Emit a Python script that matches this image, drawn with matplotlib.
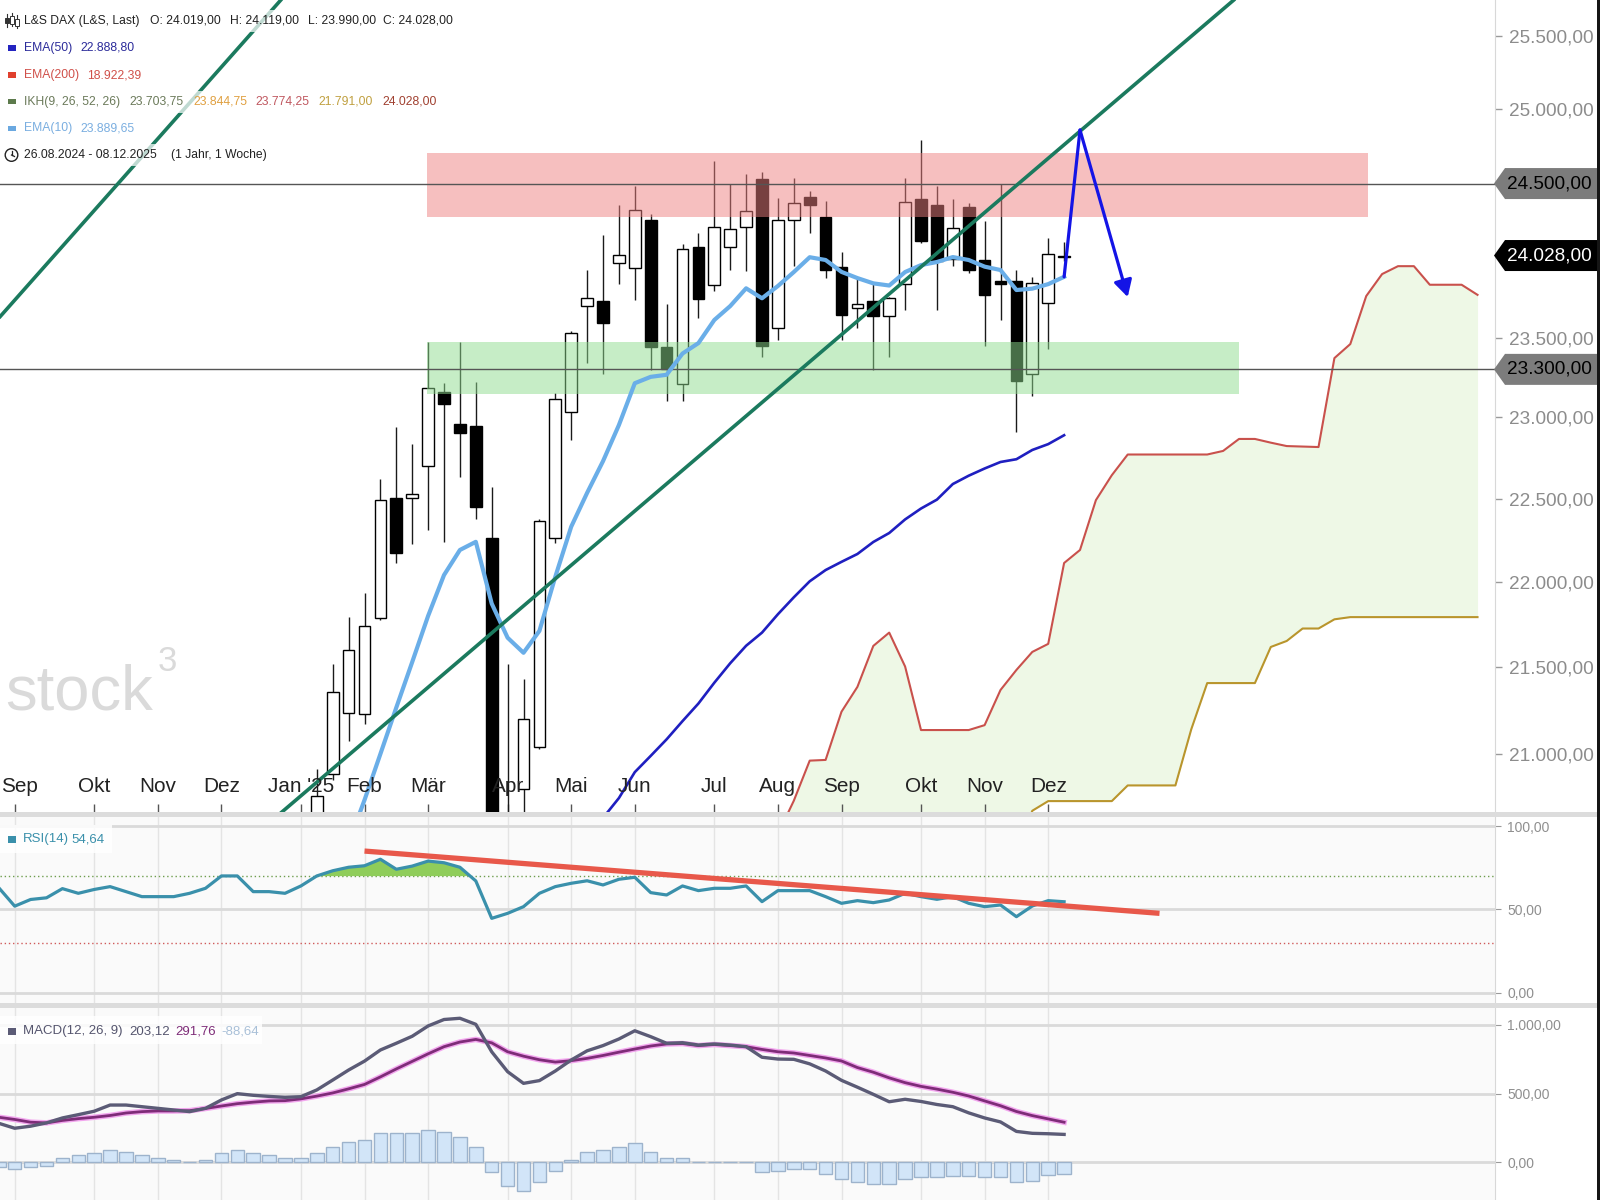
import numpy as np
import matplotlib
matplotlib.use("Agg")
import matplotlib.pyplot as plt
import matplotlib.transforms as mtransforms
from matplotlib import font_manager
from matplotlib.patches import Polygon, Rectangle, Circle
from matplotlib.lines import Line2D
from matplotlib.ticker import NullLocator

# ---------------- data (week index 0 = week of 26.08.2024) ----------------
month_labels = ["Sep", "Okt", "Nov", "Dez", "Jan '25", "Feb", "Mär", "Apr",
                "Mai", "Jun", "Jul", "Aug", "Sep", "Okt", "Nov", "Dez"]
month_weeks = [1, 6, 10, 14, 19, 23, 27, 32, 36, 40, 45, 49, 53, 58, 62, 66]

candle_start = 19
opens = [19950, 20250, 20887, 21236, 21227, 21787, 22503, 22501, 22698, 23157,
         22958, 22949, 22259, 19900, 20800, 21037, 22259, 23030, 23700, 23735,
         23980, 23949, 24261, 23444, 23207, 24085, 23840, 24082, 24213, 24529,
         23562, 24258, 24414, 24281, 23952, 23690, 23733, 23636, 23845, 24396,
         24360, 24003, 24347, 23996, 23860, 23862, 23271, 23722, 24019]
highs = [20450, 20915, 21517, 21790, 21935, 22619, 22943, 22835, 23476, 23213,
         23476, 23223, 22571, 21519, 21429, 22375, 23151, 23546, 23931, 24162,
         24360, 24483, 24302, 23715, 24105, 24172, 24651, 24500, 24562, 24574,
         24406, 24539, 24452, 24386, 24052, 23884, 23850, 23760, 24539, 24789,
         24483, 24396, 24373, 24253, 24500, 23931, 23891, 24143, 24119]
lows = [19880, 20150, 20850, 21076, 21170, 21772, 22112, 22226, 22313, 22236,
        22634, 22377, 20400, 18490, 20400, 21028, 22229, 22860, 23343, 23269,
        23847, 23743, 23297, 23100, 23100, 23626, 23797, 23937, 23927, 23378,
        23483, 23958, 24176, 23884, 23483, 23562, 23297, 23378, 23674, 24110,
        23674, 23958, 23916, 23450, 23610, 22912, 23134, 23430, 23990]
closes = [20215, 20762, 21356, 21599, 21737, 22494, 22170, 22527, 23180, 23083,
          22905, 22451, 20641, 20374, 21198, 22364, 23115, 23529, 23755, 23595,
          24029, 24325, 23440, 23302, 24073, 23750, 24213, 24202, 24317, 23450,
          24258, 24371, 24358, 23937, 23646, 23715, 23636, 23753, 24381, 24121,
          23990, 24205, 23937, 23776, 23844, 23228, 23850, 24039, 24028]

ema10_start = 21
ema10 = [20150, 20500, 20740, 21000, 21265, 21528, 21798, 22040, 22190, 22239,
         21871, 21670, 21582, 21710, 22030, 22330, 22535, 22729, 22952, 23213,
         23253, 23266, 23400, 23466, 23613, 23702, 23816, 23752, 23831, 23921,
         24017, 23999, 23922, 23882, 23848, 23834, 23921, 23966, 23986, 24018,
         23999, 23956, 23934, 23805, 23814, 23843, 23890]

ema50_start = 37
ema50 = [20550, 20640, 20751, 20897, 20989, 21083, 21187, 21288, 21408, 21521,
         21623, 21700, 21808, 21908, 22003, 22070, 22119, 22166, 22238, 22292,
         22374, 22440, 22494, 22589, 22640, 22684, 22724, 22741, 22798, 22834,
         22889]

cloud_start = 49
span_a = [20550, 20736, 20962, 20966, 21241, 21384, 21622, 21700, 21502, 21136,
          21136, 21136, 21136, 21164, 21366, 21482, 21587, 21634, 22112, 22190,
          22491, 22643, 22770, 22770, 22770, 22770, 22770, 22770, 22792, 22866,
          22866, 22843, 22822, 22819, 22816, 23371, 23460, 23766, 23908, 23959,
          23959, 23839, 23839, 23839, 23774]
span_b = [19700, 19700, 19750, 19800, 19900, 19950, 20000, 20050, 20100, 20150,
          20200, 20250, 20300, 20350, 20450, 20450, 20680, 20734, 20734, 20734,
          20734, 20734, 20822, 20822, 20822, 20822, 21141, 21406, 21406, 21406,
          21406, 21616, 21651, 21724, 21724, 21778, 21791, 21791, 21791, 21791,
          21791, 21791, 21791, 21791, 21791]

rsi = [63, 52, 56, 57, 62.5, 59.7, 62, 63.7, 60.7, 57.7,
       57.7, 57.7, 59.7, 62.7, 70.1, 70.1, 60.7, 60.7, 59.7, 64.1,
       70.1, 73.2, 75.3, 76.2, 80.1, 74.1, 76.0, 79.0, 78.0, 75.3,
       67.1, 44.7, 47.7, 51.7, 59.7, 63.7, 65.7, 67.2, 64.7, 68.1,
       69.3, 60.1, 58.7, 64.1, 61.3, 62.7, 62.7, 64.1, 54.7, 61.3,
       61.3, 61.3, 57.7, 53.7, 55.3, 54.1, 55.7, 59.7, 57.7, 56.1,
       57.7, 53.7, 51.7, 52.7, 45.7, 52.1, 55.3, 54.64]

macd = [284, 248, 263, 287, 323, 347, 372, 417, 417, 405,
        393, 381, 369, 393, 454, 500, 488, 480, 473, 478,
        527, 599, 672, 737, 818, 867, 918, 993, 1040, 1049,
        1005, 805, 660, 575, 595, 665, 745, 812, 850, 898,
        958, 915, 867, 871, 854, 862, 854, 842, 765, 752,
        750, 717, 665, 597, 547, 495, 441, 459, 443, 421,
        405, 360, 323, 294, 225, 211, 208, 203.12]
signal = [328, 312, 292, 287, 305, 318, 328, 341, 359, 369,
          374, 374, 376, 392, 410, 427, 438, 447, 449, 462,
          482, 505, 535, 567, 622, 680, 735, 790, 842, 876,
          895, 870, 805, 773, 747, 730, 740, 757, 778, 802,
          825, 847, 862, 865, 850, 858, 850, 842, 822, 805,
          796, 778, 760, 738, 690, 656, 615, 580, 553, 533,
          510, 483, 447, 412, 370, 340, 316, 291.76]
hist = [-32, -49, -36, -24, 29, 53, 66, 90, 78, 53,
        29, 17, 5, 17, 66, 90, 66, 53, 29, 29,
        66, 114, 151, 163, 211, 211, 211, 235, 223, 187,
        114, -73, -170, -206, -146, -61, 17, 78, 90, 114,
        138, 78, 29, 29, 5, 5, 5, 5, -73, -61,
        -49, -49, -87, -121, -146, -158, -158, -121, -109, -109,
        -97, -97, -109, -109, -146, -134, -92, -88.64]

price_ticks = [21000, 21500, 22000, 22500, 23000, 23500, 24500, 25000, 25500]
rsi_ticks = [0, 50, 100]
macd_ticks = [0, 500, 1000]

resistance_zone = (26.9, 86.1, 24280, 24700)   # week from, week to, low, high
support_zone = (26.9, 78.0, 23145, 23470)
level_high = 24500
level_low = 23300
last_close = 24028
trend_main = [(30.0, 21618), (60.0, 24131)]
trend_upper = [(8.25, 24589), (16.62, 25607)]
projection = [(67, 23890), (68, 24857), (71, 23760)]
rsi_trend = [(23, 85), (73, 47.7)]

# ---------------- fonts ----------------
names = {f.name for f in font_manager.fontManager.ttflist}
NARROW_OK = "Liberation Sans Narrow" in names
FAM = ["Liberation Sans Narrow" if NARROW_OK else "Liberation Sans", "DejaVu Sans"]
plt.rcParams["font.family"] = FAM
SC = 1.0 if NARROW_OK else 0.83


def fs(s):
    return s * SC


def de(v):
    s = f"{v:,.2f}"
    return s.replace(",", "§").replace(".", ",").replace("§", ".")


W, H = 1600, 1200
fig = plt.figure(figsize=(16, 12), dpi=100, facecolor="white")


def fx(px):
    return px / W


def fy(py):
    return 1 - py / H


ax = fig.add_axes([0, fy(812), fx(1495), 812 / H])
ax_rsi = fig.add_axes([0, fy(1003), fx(1495), (1003 - 817) / H])
ax_macd = fig.add_axes([0, 0, fx(1495), (1200 - 1008) / H])

# panel separators
for y0, y1 in [(812, 817), (1003, 1008)]:
    fig.add_artist(Rectangle((0, fy(y1)), 1, (y1 - y0) / H, transform=fig.transFigure,
                             facecolor="#dcdcdc", edgecolor="none", zorder=0.5))

# ---------------- main price panel ----------------
ax.set_yscale("log")
ax.set_xlim(0.075, 94.1)
ax.set_ylim(20673, 25746)
ax.set_facecolor("white")
for sp in ["left", "top", "bottom"]:
    ax.spines[sp].set_visible(False)
ax.spines["right"].set_color("#d8d8d8")

# watermark
ax.text(fx(5) / fx(1495), (812 - 709) / 812, "stock", transform=ax.transAxes,
        fontsize=fs(55), color="#dadada", ha="left", va="baseline", zorder=0.2)
ax.text(fx(158) / fx(1495), (812 - 645) / 812, "3", transform=ax.transAxes,
        fontsize=fs(30), color="#dadada", ha="left", va="top", zorder=0.2)

# ichimoku cloud
cw = np.arange(cloud_start, cloud_start + len(span_a))
sa = np.array(span_a, float)
sb = np.array(span_b, float)
ax.fill_between(cw, sa, sb, where=sa >= sb, interpolate=True, color="#eef8e6", lw=0, zorder=1)
ax.plot(cw, sa, color="#c9514c", lw=1.5, zorder=2)
ax.plot(cw, sb, color="#b9952c", lw=1.5, zorder=2)

# candles
ks = np.arange(candle_start, candle_start + len(opens))
for k, o, h, l, c in zip(ks, opens, highs, lows, closes):
    ax.vlines(k, l, h, color="#1a1a1a", lw=1.0, zorder=3)
    lo, hi = min(o, c), max(o, c)
    ax.bar(k, hi - lo, bottom=lo, width=0.74, color="white" if c >= o else "black",
           edgecolor="black", lw=1.0, zorder=4)

# zones
for (k0, k1, lo, hi), col in [(resistance_zone, "#ee8080"), (support_zone, "#8fdc8f")]:
    ax.add_patch(Rectangle((k0, lo), k1 - k0, hi - lo, facecolor=col, alpha=0.5,
                           edgecolor="none", zorder=5))
ax.axhline(level_high, color="#555555", lw=1.0, zorder=5.5)
ax.axhline(level_low, color="#555555", lw=1.0, zorder=5.5)

# moving averages
ax.plot(np.arange(ema50_start, ema50_start + len(ema50)), ema50, color="#1f1fc0", lw=1.9, zorder=6)
ax.plot(np.arange(ema10_start, ema10_start + len(ema10)), ema10, color="#6aaee8", lw=3.0, zorder=6)


def log_line(p, q, k_from, k_to):
    kk = np.array([k_from, k_to], float)
    (k0, p0), (k1, p1) = p, q
    return kk, np.exp(np.log(p0) + (np.log(p1) - np.log(p0)) * (kk - k0) / (k1 - k0))


kk, pp = log_line(trend_main[0], trend_main[1], 10, 85)
ax.plot(kk, pp, color="#1b7a5e", lw=2.6, zorder=7, solid_capstyle="butt")
kk, pp = log_line(trend_upper[0], trend_upper[1], -2, 22)
ax.plot(kk, pp, color="#1b7a5e", lw=2.6, zorder=7, solid_capstyle="butt")

# projected path
(pk0, pv0), (pk1, pv1), (pk2, pv2) = projection
ax.plot([pk0, pk1], [pv0, pv1], color="#1414e6", lw=2.3, zorder=8, solid_capstyle="round")
ax.annotate("", xy=(pk2, pv2), xytext=(pk1, pv1),
            arrowprops=dict(arrowstyle="-|>,head_length=1.0,head_width=0.55", color="#1414e6",
                            lw=2.3, shrinkA=0, shrinkB=0), zorder=8)

# axes ticks
ax.yaxis.tick_right()
ax.set_yticks(price_ticks)
ax.set_yticklabels([de(t) for t in price_ticks])
ax.yaxis.set_minor_locator(NullLocator())
ax.tick_params(axis="y", which="major", length=5, width=1, color="#9a9a9a",
               labelcolor="#8c8c8c", labelsize=fs(16.5), pad=5)
ax.set_xticks(month_weeks)
ax.xaxis.set_minor_locator(NullLocator())
ax.tick_params(axis="x", direction="in", length=6, width=1, color="#555555", labelbottom=False)
btrans = mtransforms.blended_transform_factory(ax.transData, ax.transAxes)
for i, (wk, lab) in enumerate(zip(month_weeks, month_labels)):
    if i == 0:
        ax.text(0.0005, (812 - 787) / 812, lab, transform=ax.transAxes, ha="left", va="center",
                fontsize=fs(18), color="#222222", zorder=9)
    else:
        ax.text(wk, (812 - 787) / 812, lab, transform=btrans, ha="center", va="center",
                fontsize=fs(18), color="#222222", zorder=9)

# ---------------- RSI panel ----------------
wk_all = np.arange(len(rsi))
r = np.array(rsi, float)
ax_rsi.set_facecolor("#fafafa")
ax_rsi.set_xlim(0.075, 94.1)
ax_rsi.set_ylim(-6.0, 105.4)
for v in rsi_ticks:
    ax_rsi.axhline(v, color="#dadada", lw=2, zorder=0.5)
for wk in month_weeks:
    ax_rsi.axvline(wk, color="#e4e4e4", lw=1, zorder=0.4)
ax_rsi.axhline(70, color="#6e9e4e", lw=1, ls=(0, (1, 2)), zorder=1)
ax_rsi.axhline(30, color="#d05a5a", lw=1, ls=(0, (1, 2)), zorder=1)
ax_rsi.fill_between(wk_all, r, 70, where=r > 70, interpolate=True, color="#8fcd5a", lw=0, zorder=2)
ax_rsi.plot(wk_all, r, color="#3a90ab", lw=2.3, zorder=3)
ax_rsi.plot([rsi_trend[0][0], rsi_trend[1][0]], [rsi_trend[0][1], rsi_trend[1][1]],
            color="#e8584a", lw=3.8, zorder=4, solid_capstyle="butt")
ax_rsi.yaxis.tick_right()
ax_rsi.set_yticks(rsi_ticks)
ax_rsi.set_yticklabels([de(t) for t in rsi_ticks])
ax_rsi.set_xticks([])
ax_rsi.tick_params(axis="y", length=4, color="#9a9a9a", labelcolor="#8f8f8f", labelsize=fs(12), pad=5)
for sp in ["left", "top", "bottom"]:
    ax_rsi.spines[sp].set_visible(False)
ax_rsi.spines["right"].set_color("#d8d8d8")

# ---------------- MACD panel ----------------
ax_macd.set_facecolor("#fafafa")
ax_macd.set_xlim(0.075, 94.1)
ax_macd.set_ylim(-274.6, 1123.8)
for v in macd_ticks:
    ax_macd.axhline(v, color="#dadada", lw=2, zorder=0.5)
for wk in month_weeks:
    ax_macd.axvline(wk, color="#e4e4e4", lw=1, zorder=0.4)
ax_macd.bar(wk_all, hist, width=0.85, color="#d2e5f8", edgecolor="#9db3cc", lw=1, zorder=2)
ax_macd.plot(wk_all, signal, color="#f2a6ee", lw=4.0, zorder=3)
ax_macd.plot(wk_all, signal, color="#7e2c78", lw=2.0, zorder=4)
ax_macd.plot(wk_all, macd, color="#5b5b76", lw=2.4, zorder=5)
ax_macd.yaxis.tick_right()
ax_macd.set_yticks(macd_ticks)
ax_macd.set_yticklabels([de(t) for t in macd_ticks])
ax_macd.set_xticks([])
ax_macd.tick_params(axis="y", length=4, color="#9a9a9a", labelcolor="#8f8f8f", labelsize=fs(12), pad=5)
for sp in ["left", "top", "bottom"]:
    ax_macd.spines[sp].set_visible(False)
ax_macd.spines["right"].set_color("#d8d8d8")

# ---------------- price tags on the right axis ----------------
to_fig = ax.transData + fig.transFigure.inverted()


def price_tag(price, face, tcolor):
    yf = to_fig.transform((1, price))[1]
    hh = 15.5 / H
    verts = [(fx(1494), yf), (fx(1505), yf + hh), (1.0, yf + hh), (1.0, yf - hh), (fx(1505), yf - hh)]
    fig.add_artist(Polygon(verts, closed=True, transform=fig.transFigure,
                           facecolor=face, edgecolor="none", zorder=5))
    fig.text(fx(1507), yf, de(price), color=tcolor, fontsize=fs(16.5), ha="left", va="center", zorder=6)


price_tag(level_high, "#7c7c7c", "black")
price_tag(last_close, "black", "white")
price_tag(level_low, "#7c7c7c", "black")

# right border
fig.add_artist(Rectangle((fx(1597), 0), 3 / W, 1, transform=fig.transFigure,
                         facecolor="#151515", edgecolor="none", zorder=7))

# ---------------- legends ----------------
inch = fig.dpi_scale_trans


def pt(px, py):
    return (px / 100.0, (H - py) / 100.0)


def row_box(py, x_end, h=22):
    fig.add_artist(Rectangle((0, fy(py + h / 2)), fx(x_end), h / H, transform=fig.transFigure,
                             facecolor="white", alpha=0.72, edgecolor="none", zorder=2))


def marker(py, color):
    fig.add_artist(Rectangle(pt(8, py + 2.5), 0.08, 0.05, transform=inch,
                             facecolor=color, edgecolor="none", zorder=4))


def t(px, py, s, color, size=10.5):
    fig.text(fx(px), fy(py), s, color=color, fontsize=fs(size), ha="left", va="center", zorder=4)


rows_y = [20.7, 48, 75, 101.7, 128.3, 155]
row_box(rows_y[0], 462)
row_box(rows_y[1], 142)
row_box(rows_y[2], 150)
row_box(rows_y[3], 444)
row_box(rows_y[4], 142)
row_box(rows_y[5], 274)

# candlestick icon
for cx, y_top, y_bot, b_top, b_bot, filled in [(7, 14, 27, 18, 23, True), (12, 13, 26, 16, 24, False),
                                                (17, 15, 28, 19, 26, False)]:
    fig.add_artist(Line2D([cx / 100, cx / 100], [(H - y_top) / 100, (H - y_bot) / 100],
                          transform=inch, color="#333333", lw=0.8, zorder=4))
    fig.add_artist(Rectangle(pt(cx - 2, b_bot), 0.04, (b_bot - b_top) / 100, transform=inch,
                             facecolor="#333333" if filled else "white", edgecolor="#333333",
                             lw=0.7, zorder=5))
t(24, rows_y[0], "L&S DAX (L&S, Last)", "#222222")
t(150, rows_y[0], "O: 24.019,00", "#222222")
t(230, rows_y[0], "H: 24.119,00", "#222222")
t(308, rows_y[0], "L: 23.990,00", "#222222")
t(383, rows_y[0], "C: 24.028,00", "#222222")

marker(rows_y[1], "#2323c0")
t(24, rows_y[1], "EMA(50)", "#2b2b9a")
t(80, rows_y[1], "22.888,80", "#2b2b9a")

marker(rows_y[2], "#e0402e")
t(24, rows_y[2], "EMA(200)", "#d0504a")
t(87, rows_y[2], "18.922,39", "#d0504a")

marker(rows_y[3], "#5c7a4c")
t(24, rows_y[3], "IKH(9, 26, 52, 26)", "#6b7a5a")
t(129, rows_y[3], "23.703,75", "#6b7a5a")
t(193, rows_y[3], "23.844,75", "#e0a040")
t(255, rows_y[3], "23.774,25", "#c05860")
t(318, rows_y[3], "21.791,00", "#c0a040")
t(382, rows_y[3], "24.028,00", "#a04030")

marker(rows_y[4], "#6aa8e0")
t(24, rows_y[4], "EMA(10)", "#7aaee0")
t(80, rows_y[4], "23.889,65", "#7aaee0")

# clock icon
fig.add_artist(Circle(pt(11.5, rows_y[5]), 0.063, transform=inch, facecolor="white",
                      edgecolor="#222222", lw=1.0, zorder=4))
cxp, cyp = pt(11.5, rows_y[5])
fig.add_artist(Line2D([cxp, cxp], [cyp, cyp + 0.04], transform=inch, color="#222222", lw=0.9, zorder=5))
fig.add_artist(Line2D([cxp, cxp + 0.03], [cyp, cyp - 0.015], transform=inch, color="#222222", lw=0.9, zorder=5))
t(24, rows_y[5], "26.08.2024 - 08.12.2025", "#222222")
t(171, rows_y[5], "(1 Jahr, 1 Woche)", "#222222")

# RSI legend
fig.add_artist(Rectangle((0, fy(853)), fx(112), 28 / H, transform=fig.transFigure,
                         facecolor="white", alpha=0.85, edgecolor="none", zorder=2))
fig.add_artist(Rectangle(pt(8, 843), 0.08, 0.07, transform=inch, facecolor="#3a90ab",
                         edgecolor="none", zorder=4))
t(23, 839, "RSI(14)", "#3a90ab", 11.5)
t(71, 839, "54,64", "#3a90ab", 11.5)

# MACD legend
fig.add_artist(Rectangle((0, fy(1044)), fx(262), 28 / H, transform=fig.transFigure,
                         facecolor="white", alpha=0.85, edgecolor="none", zorder=2))
fig.add_artist(Rectangle(pt(8, 1035), 0.08, 0.07, transform=inch, facecolor="#5b5b76",
                         edgecolor="none", zorder=4))
t(23, 1031, "MACD(12, 26, 9)", "#55556e", 11.5)
t(129, 1031, "203,12", "#55556e", 11.5)
t(175, 1031, "291,76", "#7e2c78", 11.5)
t(221, 1031, "-88,64", "#a9c0d8", 11.5)

fig.savefig("out.png", dpi=100, facecolor="white")
